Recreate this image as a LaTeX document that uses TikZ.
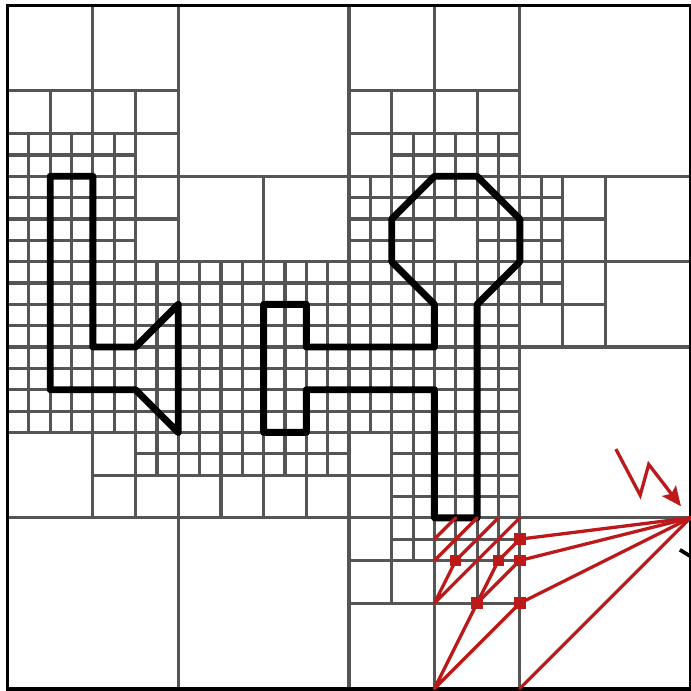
\documentclass[tikz,border=0pt]{standalone}
\usepackage{xcolor}
\usetikzlibrary{arrows.meta}

\definecolor{gridgray}{HTML}{555555}
\definecolor{meshred}{HTML}{BC1A1A}

\tikzset{
    cell/.style={draw=gridgray, line width=2.1pt},
    wall/.style={draw=black, line width=4.6pt, line join=round},
    frame/.style={draw=black, line width=2.6pt},
    mesh/.style={draw=meshred, line width=2.2pt, line cap=round, line join=round},
    knot/.style={fill=meshred, minimum size=7.6pt, inner sep=0pt, outer sep=0pt},
}

\begin{document}
\begin{tikzpicture}[x=0.5cm, y=-0.5cm]
    \useasboundingbox[clip] (-0.352,-0.258) rectangle (32.02,32.1);
    % fine cells
    \foreach \xa/\ya/\xb/\yb in {0/6/6/12, 0/12/16/20, 6/20/16/22, 16/16/24/20, 18/20/24/24, 18/24/20/26,
        18/6/24/8, 16/8/26/12, 16/12/26/14, 16/14/24/16}
        \draw[cell, step=0.5cm] (\xa,\ya) grid (\xb,\yb);
    % coarse cells
    \foreach \x/\y/\s in {0/0/4, 4/0/4, 8/0/8, 16/0/4, 20/0/4, 24/0/8,
        0/4/2, 2/4/2, 4/4/2, 6/4/2, 16/4/2, 18/4/2, 20/4/2, 22/4/2,
        6/6/2, 16/6/2, 6/8/2, 6/10/2, 8/8/4, 12/8/4, 20/10/2,
        26/8/2, 26/10/2, 28/8/4, 26/12/2, 28/12/4, 24/14/2, 26/14/2,
        0/20/4, 4/20/2, 16/20/2, 4/22/2, 6/22/2, 8/22/2, 10/22/2, 12/22/2, 14/22/2, 16/22/2,
        24/16/8, 0/24/8, 8/24/8, 16/24/2, 20/24/2, 22/24/2, 16/26/2, 18/26/2, 20/26/2, 22/26/2,
        16/28/4, 20/28/4, 24/24/8}
        \draw[cell, fill=white] (\x,\y) rectangle ++(\s,\s);
    \foreach \x/\y in {20/24, 20/25, 21/24, 21/25, 22/24, 22/25, 23/24, 23/25}
        \draw[cell] (\x,\y) rectangle ++(1,1);
    \draw[frame] (0,0) rectangle (32,32);
    % walls
    \draw[wall] (2,8) -- (4,8) -- (4,16) -- (6,16) -- (8,14) -- (8,20) -- (6,18) -- (2,18) -- cycle;
    \draw[wall] (12,14) -- (14,14) -- (14,16) -- (20,16) -- (20,14) -- (18,12) -- (18,10) -- (20,8) -- (22,8)
        -- (24,10) -- (24,12) -- (22,14) -- (22,24) -- (20,24) -- (20,18) -- (14,18) -- (14,20) -- (12,20) -- cycle;
    % red part
    \coordinate (source) at (32,24);
    \coordinate (c1) at (21,24);
    \coordinate (c2) at (22,24);
    \coordinate (c3) at (23,24);
    \coordinate (c4) at (24,24);
    \coordinate (e1) at (20,25);
    \coordinate (e2) at (20,26);
    \coordinate (e3) at (20,28);
    \coordinate (e4) at (20,32);
    \coordinate (e5) at (24,32);
    \coordinate (z1) at (28.5,20.78);
    \coordinate (z2) at (29.64,22.94);
    \coordinate (z3) at (30.04,21.5);
    \coordinate (z4) at (31.55,23.46);
    \coordinate (b1) at (31.5,25.5);
    \coordinate (b2) at (32.1,25.87);
    \node[knot] (k1) at (24,25) {};
    \node[knot] (k2) at (24,26) {};
    \node[knot] (k3) at (23,26) {};
    \node[knot] (k4) at (21,26) {};
    \node[knot] (k5) at (24,28) {};
    \node[knot] (k6) at (22,28) {};
    \draw[mesh] (c1) -- (e1);
    \draw[mesh] (c2) -- (e2);
    \draw[mesh] (c3) -- (k4.center) -- (e3) -- (c4);
    \draw[mesh] (source) -- (k1.center) -- (k3.center) -- (k6.center) -- (e4) -- (k5.center) -- (source);
    \draw[mesh] (source) -- (k2.center) -- (k6.center);
    \draw[mesh] (source) -- (e5);
    \draw[mesh, -{Stealth[length=13pt, width=11.5pt, inset=2.5pt]}, line cap=butt, line join=miter] (z1) -- (z2) -- (z3) -- (z4);
    \draw[draw=black, line width=2.5pt] (b1) -- (b2);
\end{tikzpicture}
\end{document}
